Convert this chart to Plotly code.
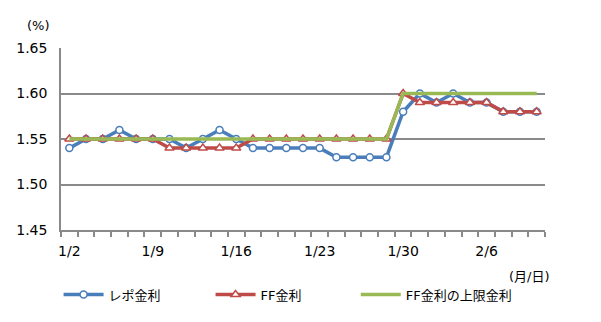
import plotly.graph_objects as go

dates = ["1/2", "1/3", "1/4", "1/5", "1/8", "1/9", "1/10", "1/11", "1/12", "1/15",
         "1/16", "1/17", "1/18", "1/19", "1/22", "1/23", "1/24", "1/25", "1/26", "1/29",
         "1/30", "1/31", "2/1", "2/2", "2/5", "2/6", "2/7", "2/8", "2/9"]
repo = [1.54, 1.55, 1.55, 1.56, 1.55, 1.55, 1.55, 1.54, 1.55, 1.56,
        1.55, 1.54, 1.54, 1.54, 1.54, 1.54, 1.53, 1.53, 1.53, 1.53,
        1.58, 1.60, 1.59, 1.60, 1.59, 1.59, 1.58, 1.58, 1.58]
ff = [1.55, 1.55, 1.55, 1.55, 1.55, 1.55, 1.54, 1.54, 1.54, 1.54,
      1.54, 1.55, 1.55, 1.55, 1.55, 1.55, 1.55, 1.55, 1.55, 1.55,
      1.60, 1.59, 1.59, 1.59, 1.59, 1.59, 1.58, 1.58, 1.58]
ff_upper = [1.55, 1.55, 1.55, 1.55, 1.55, 1.55, 1.55, 1.55, 1.55, 1.55,
            1.55, 1.55, 1.55, 1.55, 1.55, 1.55, 1.55, 1.55, 1.55, 1.55,
            1.60, 1.60, 1.60, 1.60, 1.60, 1.60, 1.60, 1.60, 1.60]
names = ["レポ金利", "FF金利", "FF金利の上限金利"]
label_every = 5
y_ticks = [1.45, 1.50, 1.55, 1.60, 1.65]

FONT = "DejaVu Sans, Noto Sans CJK JP, sans-serif"
GRID = "#8a8a8a"

fig = go.Figure()
fig.add_trace(go.Scatter(
    x=dates, y=repo, name=names[0], mode="lines+markers", legend="legend",
    line=dict(color="#4a7ebb", width=3.5),
    marker=dict(symbol="circle", size=7, color="white",
                line=dict(color="#4a7ebb", width=1.5))))
fig.add_trace(go.Scatter(
    x=dates, y=ff, name=names[1], mode="lines+markers", legend="legend2",
    line=dict(color="#be4b48", width=3.5),
    marker=dict(symbol="triangle-up", size=8, color="white",
                line=dict(color="#be4b48", width=1.5))))
fig.add_trace(go.Scatter(
    x=dates, y=ff_upper, name=names[2], mode="lines", legend="legend3",
    line=dict(color="#98b954", width=3.5)))

ticktext = [d if i % label_every == 0 else "" for i, d in enumerate(dates)]


def leg(x):
    return dict(orientation="h", x=x, xanchor="left", y=-0.355, yanchor="middle",
                font=dict(size=13), bgcolor="rgba(0,0,0,0)", itemwidth=40)


fig.update_layout(
    width=601, height=322,
    margin=dict(l=61, r=56, t=48, b=92),
    paper_bgcolor="white", plot_bgcolor="white",
    font=dict(family=FONT, size=14, color="#000000"),
    showlegend=True,
    legend=leg(-0.005),
    legend2=leg(0.309),
    legend3=leg(0.609),
    xaxis=dict(type="category", range=[-0.5, len(dates) - 0.5],
               tickmode="array", tickvals=dates, ticktext=ticktext,
               tickson="boundaries", ticks="outside", ticklen=5, tickwidth=1.5,
               tickcolor=GRID, showline=True, linecolor=GRID, linewidth=1.5,
               showgrid=False, tickangle=0, ticklabelstandoff=7,
               tickfont=dict(size=14)),
    yaxis=dict(range=[1.45, 1.65], tickmode="array", tickvals=y_ticks,
               tickformat=".2f", showgrid=True, gridcolor=GRID, gridwidth=1.5,
               showline=True, linecolor=GRID, linewidth=1.5, ticks="",
               ticklabelstandoff=9, zeroline=False, tickfont=dict(size=14)),
    annotations=[
        dict(text="(%)", xref="paper", yref="paper", x=-0.047, y=1.125,
             showarrow=False, xanchor="center", yanchor="middle",
             font=dict(size=13)),
        dict(text="(月/日)", xref="paper", yref="paper", x=0.968, y=-0.255,
             showarrow=False, xanchor="center", yanchor="middle",
             font=dict(size=13)),
    ],
)

fig.write_html("out.html")
